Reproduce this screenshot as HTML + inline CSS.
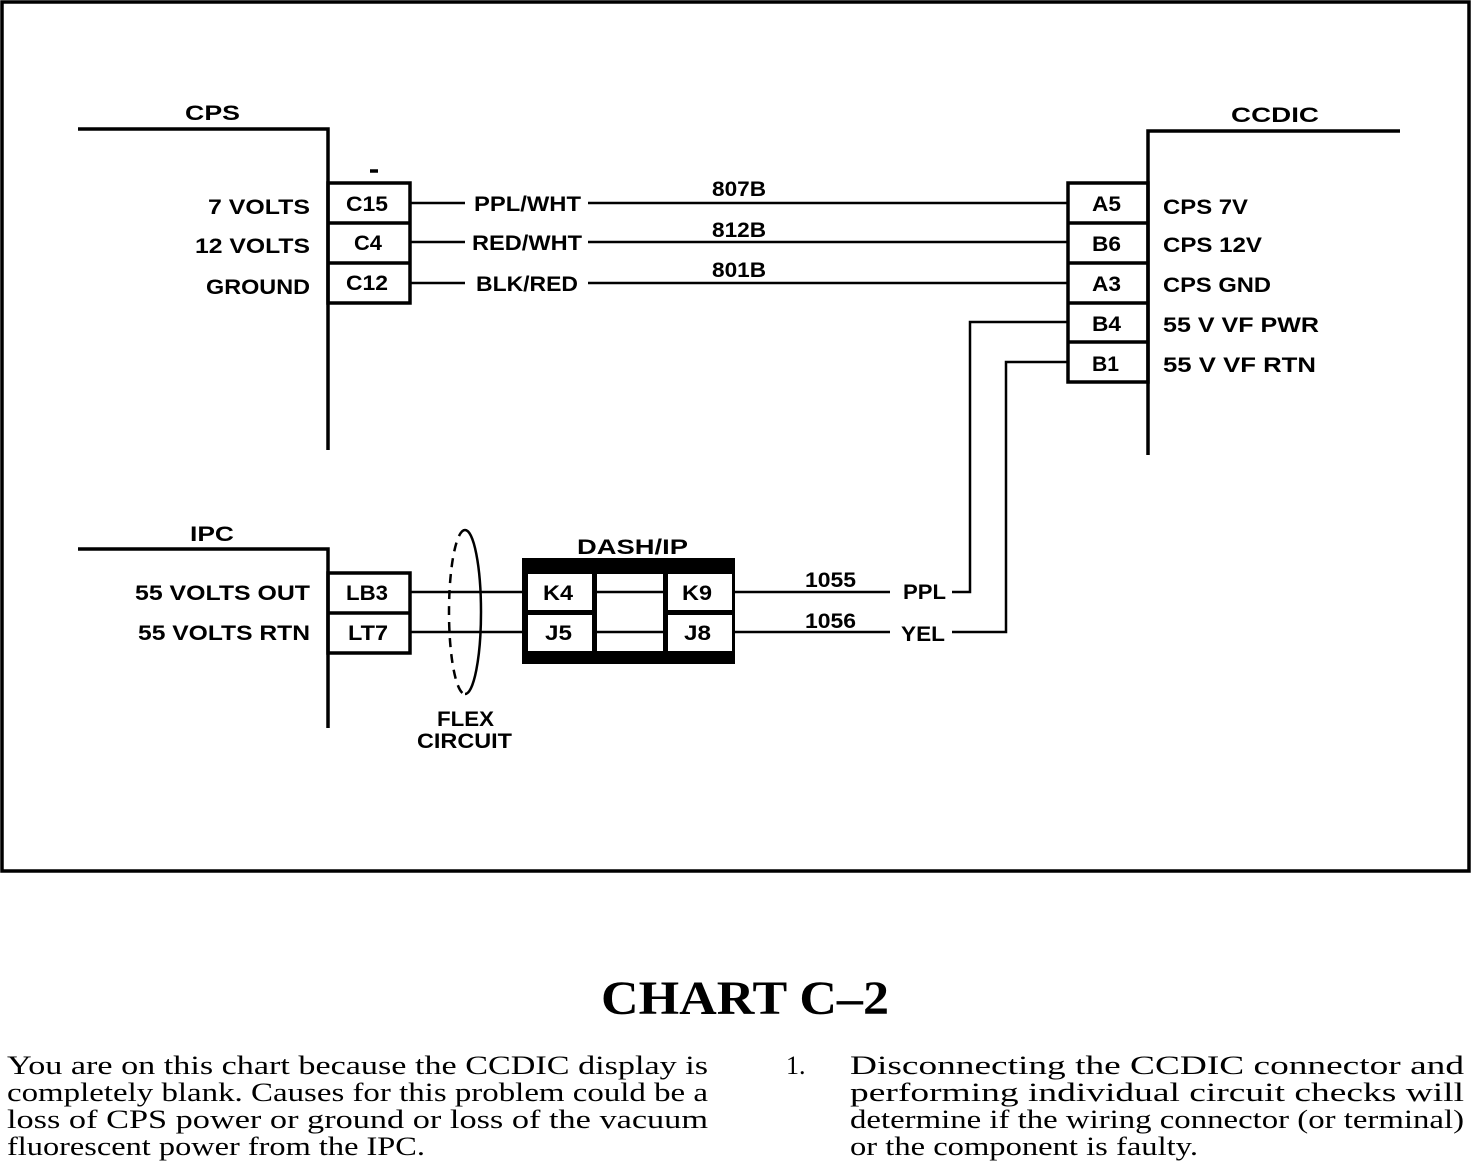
<!DOCTYPE html>
<html><head><meta charset="utf-8"><style>
html,body{margin:0;padding:0;background:#fff}
svg{display:block}
.l{font-family:"Liberation Sans",sans-serif;font-weight:bold;font-size:21px;fill:#000}
.s{font-family:"Liberation Serif",serif;font-size:26px;fill:#000}
</style></head><body>
<svg width="1472" height="1168" viewBox="0 0 1472 1168" xmlns="http://www.w3.org/2000/svg">
<rect x="2" y="2" width="1467" height="869" fill="none" stroke="#000" stroke-width="3.5"/>
<g fill="none" stroke="#000" stroke-width="3.5">
<polyline points="78,129 328,129 328,450"/>
<rect x="328" y="183" width="82" height="120"/>
<line x1="328" y1="223" x2="410" y2="223"/>
<line x1="328" y1="263" x2="410" y2="263"/>
<line x1="370" y1="171" x2="378" y2="171"/>
<polyline points="1400,131 1148,131 1148,455"/>
<rect x="1068" y="183" width="80" height="199"/>
<line x1="1068" y1="223" x2="1148" y2="223"/>
<line x1="1068" y1="263" x2="1148" y2="263"/>
<line x1="1068" y1="303" x2="1148" y2="303"/>
<line x1="1068" y1="342" x2="1148" y2="342"/>
<polyline points="78,549 328,549 328,728"/>
<rect x="328" y="573" width="82" height="80"/>
<line x1="328" y1="613" x2="410" y2="613"/>
</g>
<g stroke="#000" stroke-width="2.5" fill="none">
<line x1="410" y1="203" x2="465" y2="203"/>
<line x1="410" y1="242" x2="465" y2="242"/>
<line x1="410" y1="283" x2="465" y2="283"/>
<line x1="588" y1="203" x2="1068" y2="203"/>
<line x1="588" y1="242" x2="1068" y2="242"/>
<line x1="588" y1="283" x2="1068" y2="283"/>
<line x1="410" y1="592" x2="525" y2="592"/>
<line x1="410" y1="632" x2="525" y2="632"/>
<line x1="735" y1="592" x2="890" y2="592"/>
<line x1="735" y1="632" x2="890" y2="632"/>
<polyline points="952,592 970,592 970,322 1068,322"/>
<polyline points="952,632 1006,632 1006,362 1068,362"/>
</g>
<path d="M465,530 A16,82 0 0,1 465,694" fill="none" stroke="#000" stroke-width="2.5"/>
<path d="M465,530 A16,82 0 0,0 465,694" fill="none" stroke="#000" stroke-width="2.5" stroke-dasharray="9,7"/>
<rect x="522" y="558" width="213" height="106" fill="#000"/>
<rect x="528" y="574" width="64" height="36" fill="#fff"/>
<rect x="528" y="615" width="64" height="36" fill="#fff"/>
<rect x="597" y="574" width="66" height="77" fill="#fff"/>
<rect x="668" y="574" width="64" height="36" fill="#fff"/>
<rect x="668" y="615" width="64" height="36" fill="#fff"/>
<line x1="597" y1="592" x2="663" y2="592" stroke="#000" stroke-width="2.5"/>
<line x1="597" y1="632" x2="663" y2="632" stroke="#000" stroke-width="2.5"/>
<g class="l">
<text x="185" y="120" textLength="55" lengthAdjust="spacingAndGlyphs">CPS</text>
<text x="1231" y="122" textLength="88" lengthAdjust="spacingAndGlyphs">CCDIC</text>
<text x="190" y="541" textLength="44" lengthAdjust="spacingAndGlyphs">IPC</text>
<text x="577" y="554" textLength="111" lengthAdjust="spacingAndGlyphs">DASH/IP</text>
<text x="208" y="214" textLength="102" lengthAdjust="spacingAndGlyphs">7 VOLTS</text>
<text x="195" y="253" textLength="115" lengthAdjust="spacingAndGlyphs">12 VOLTS</text>
<text x="206" y="294" textLength="104" lengthAdjust="spacingAndGlyphs">GROUND</text>
<text x="135" y="600" textLength="175" lengthAdjust="spacingAndGlyphs">55 VOLTS OUT</text>
<text x="138" y="640" textLength="172" lengthAdjust="spacingAndGlyphs">55 VOLTS RTN</text>
<text x="346" y="211" textLength="42" lengthAdjust="spacingAndGlyphs">C15</text>
<text x="354" y="250" textLength="28" lengthAdjust="spacingAndGlyphs">C4</text>
<text x="346" y="290" textLength="42" lengthAdjust="spacingAndGlyphs">C12</text>
<text x="1092" y="211" textLength="29" lengthAdjust="spacingAndGlyphs">A5</text>
<text x="1092" y="251" textLength="29" lengthAdjust="spacingAndGlyphs">B6</text>
<text x="1092" y="291" textLength="29" lengthAdjust="spacingAndGlyphs">A3</text>
<text x="1092" y="331" textLength="29" lengthAdjust="spacingAndGlyphs">B4</text>
<text x="1092" y="371" textLength="27" lengthAdjust="spacingAndGlyphs">B1</text>
<text x="346" y="600" textLength="42" lengthAdjust="spacingAndGlyphs">LB3</text>
<text x="348" y="640" textLength="40" lengthAdjust="spacingAndGlyphs">LT7</text>
<text x="543" y="600" textLength="30" lengthAdjust="spacingAndGlyphs">K4</text>
<text x="545" y="640" textLength="27" lengthAdjust="spacingAndGlyphs">J5</text>
<text x="682" y="600" textLength="30" lengthAdjust="spacingAndGlyphs">K9</text>
<text x="684" y="640" textLength="27" lengthAdjust="spacingAndGlyphs">J8</text>
<text x="437" y="726" textLength="57" lengthAdjust="spacingAndGlyphs">FLEX</text>
<text x="417" y="748" textLength="95" lengthAdjust="spacingAndGlyphs">CIRCUIT</text>
<text x="474" y="211" textLength="107" lengthAdjust="spacingAndGlyphs">PPL/WHT</text>
<text x="472" y="250" textLength="110" lengthAdjust="spacingAndGlyphs">RED/WHT</text>
<text x="476" y="291" textLength="102" lengthAdjust="spacingAndGlyphs">BLK/RED</text>
<text x="712" y="196" textLength="54" lengthAdjust="spacingAndGlyphs">807B</text>
<text x="712" y="237" textLength="54" lengthAdjust="spacingAndGlyphs">812B</text>
<text x="712" y="277" textLength="54" lengthAdjust="spacingAndGlyphs">801B</text>
<text x="805" y="587" textLength="51" lengthAdjust="spacingAndGlyphs">1055</text>
<text x="805" y="628" textLength="51" lengthAdjust="spacingAndGlyphs">1056</text>
<text x="903" y="599" textLength="43" lengthAdjust="spacingAndGlyphs">PPL</text>
<text x="901" y="641" textLength="44" lengthAdjust="spacingAndGlyphs">YEL</text>
<text x="1163" y="214" textLength="85" lengthAdjust="spacingAndGlyphs">CPS 7V</text>
<text x="1163" y="252" textLength="99" lengthAdjust="spacingAndGlyphs">CPS 12V</text>
<text x="1163" y="292" textLength="108" lengthAdjust="spacingAndGlyphs">CPS GND</text>
<text x="1163" y="332" textLength="156" lengthAdjust="spacingAndGlyphs">55 V VF PWR</text>
<text x="1163" y="372" textLength="153" lengthAdjust="spacingAndGlyphs">55 V VF RTN</text>
</g>
<text x="745" y="1014" text-anchor="middle" style="font-family:'Liberation Serif',serif;font-weight:bold;font-size:48px" textLength="288" lengthAdjust="spacingAndGlyphs">CHART C–2</text>
<g class="s">
<text x="7" y="1074" textLength="701" lengthAdjust="spacingAndGlyphs">You are on this chart because the CCDIC display is</text>
<text x="7" y="1101" textLength="701" lengthAdjust="spacingAndGlyphs">completely blank.  Causes for this problem could be a</text>
<text x="7" y="1128" textLength="701" lengthAdjust="spacingAndGlyphs">loss of CPS power or ground or loss of the vacuum</text>
<text x="7" y="1155" textLength="418" lengthAdjust="spacingAndGlyphs">fluorescent power from the IPC.</text>
<text x="786" y="1074">1.</text>
<text x="850" y="1074" textLength="614" lengthAdjust="spacingAndGlyphs">Disconnecting the CCDIC connector and</text>
<text x="850" y="1101" textLength="614" lengthAdjust="spacingAndGlyphs">performing individual circuit checks will</text>
<text x="850" y="1128" textLength="614" lengthAdjust="spacingAndGlyphs">determine if the wiring connector (or terminal)</text>
<text x="850" y="1155" textLength="348" lengthAdjust="spacingAndGlyphs">or the component is faulty.</text>
</g>
</svg>
</body></html>
